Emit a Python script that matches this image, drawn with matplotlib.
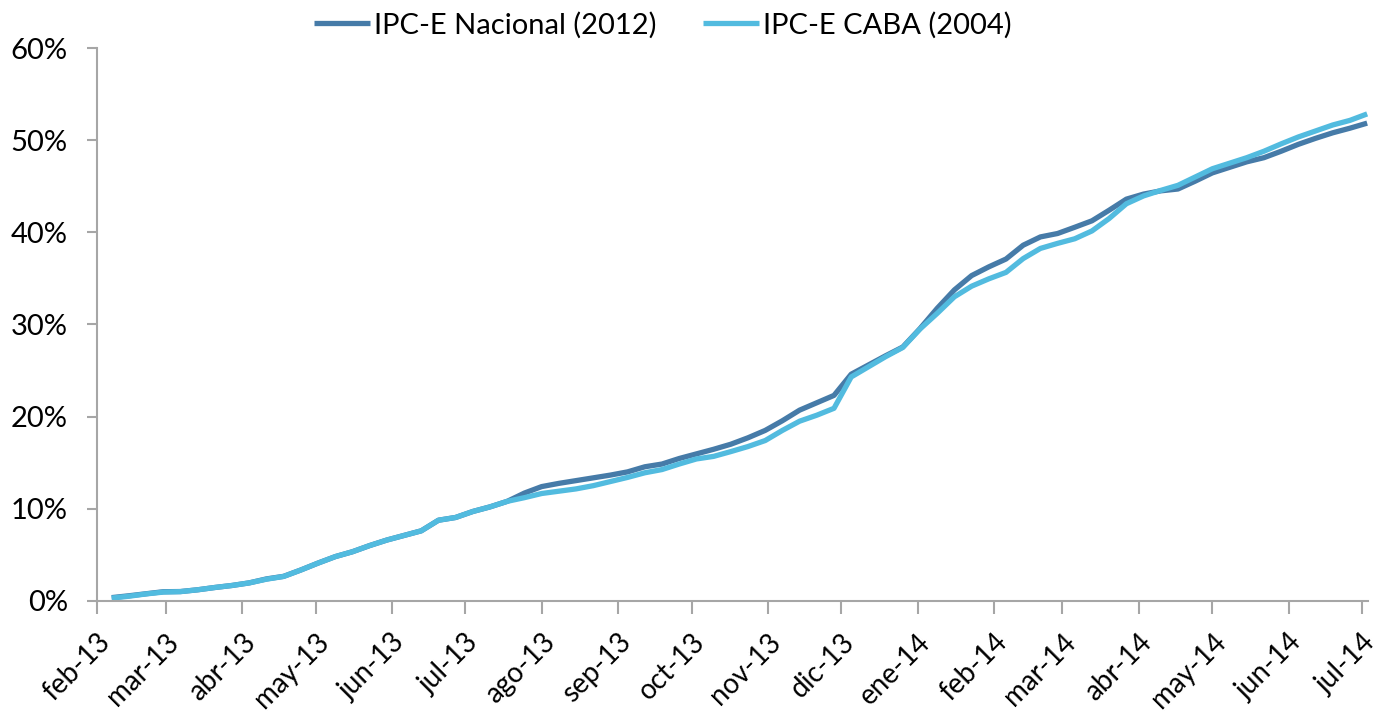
import matplotlib

matplotlib.use("Agg")
import matplotlib.dates as mdates
import matplotlib.pyplot as plt
import pandas as pd
from matplotlib.ticker import FuncFormatter

plt.rcParams["font.family"] = ["Lato", "DejaVu Sans"]

# weekly observations (Thursdays), cumulative % change
dates = pd.date_range("2013-02-07", periods=74, freq="7D")

nacional = [
    0.35, 0.55, 0.77, 0.99, 1.01, 1.2, 1.45, 1.67, 1.95, 2.38,
    2.66, 3.35, 4.1, 4.8, 5.33, 6.0, 6.6, 7.1, 7.6, 8.75,
    9.05, 9.7, 10.2, 10.8, 11.7, 12.4, 12.75, 13.05, 13.35, 13.65,
    14.0, 14.55, 14.85, 15.45, 15.95, 16.45, 17.0, 17.7, 18.5, 19.55,
    20.7, 21.5, 22.3, 24.6, 25.6, 26.6, 27.55, 29.55, 31.75, 33.75,
    35.3, 36.25, 37.1, 38.6, 39.5, 39.87, 40.55, 41.25, 42.4, 43.6,
    44.15, 44.5, 44.7, 45.55, 46.45, 47.05, 47.65, 48.1, 48.8, 49.55,
    50.2, 50.8, 51.3, 51.85,
]
caba = [
    0.3, 0.5, 0.75, 0.95, 1.0, 1.2, 1.45, 1.67, 1.95, 2.35,
    2.65, 3.35, 4.1, 4.8, 5.33, 6.0, 6.6, 7.1, 7.6, 8.75,
    9.05, 9.7, 10.2, 10.8, 11.2, 11.65, 11.9, 12.15, 12.5, 12.95,
    13.4, 13.9, 14.25, 14.85, 15.4, 15.68, 16.2, 16.75, 17.4, 18.5,
    19.5, 20.15, 20.9, 24.3, 25.4, 26.5, 27.5, 29.5, 31.2, 33.0,
    34.15, 34.95, 35.65, 37.15, 38.25, 38.8, 39.3, 40.15, 41.5, 43.1,
    43.95, 44.55, 45.1, 46.0, 46.9, 47.5, 48.1, 48.8, 49.6, 50.35,
    51.0, 51.65, 52.15, 52.85,
]
month_labels = [
    "feb-13", "mar-13", "abr-13", "may-13", "jun-13", "jul-13", "ago-13",
    "sep-13", "oct-13", "nov-13", "dic-13", "ene-14", "feb-14", "mar-14",
    "abr-14", "may-14", "jun-14", "jul-14",
]
month_ticks = pd.date_range("2013-02-01", periods=len(month_labels), freq="MS")

fig = plt.figure(figsize=(13.85, 7.17), dpi=100)
ax = fig.add_axes([0.070, 0.162, 0.918, 0.771])

ax.plot(dates, nacional, color="#467BA8", lw=3.8, label="IPC-E Nacional (2012)",
        solid_capstyle="butt", solid_joinstyle="round")
ax.plot(dates, caba, color="#52BBDF", lw=3.8, label="IPC-E CABA (2004)",
        solid_capstyle="butt", solid_joinstyle="round")

ax.set_ylim(0, 60)
ax.set_yticks(range(0, 61, 10))
ax.yaxis.set_major_formatter(FuncFormatter(lambda v, _: f"{v:.0f}%"))
ax.set_xlim(pd.Timestamp("2013-02-01"), pd.Timestamp("2014-07-03 12:00"))
ax.set_xticks(month_ticks)
ax.set_xticklabels(month_labels, rotation=45, ha="right", va="top", rotation_mode="anchor")

for side in ("top", "right"):
    ax.spines[side].set_visible(False)
for side in ("left", "bottom"):
    ax.spines[side].set_color("#A6A6A6")
    ax.spines[side].set_linewidth(1.5)
ax.tick_params(axis="both", colors="#A6A6A6", width=1.5, labelcolor="black", labelsize=21)
ax.tick_params(axis="y", length=7, pad=14)
ax.tick_params(axis="x", length=9, pad=11, labelsize=20)

fig.legend(loc="center", bbox_to_anchor=(663 / 1385, 1 - 25 / 717), ncol=2, frameon=False,
           fontsize=21, handlelength=1.9, handletextpad=0.15, columnspacing=1.6)

fig.savefig("out.png", dpi=100)
